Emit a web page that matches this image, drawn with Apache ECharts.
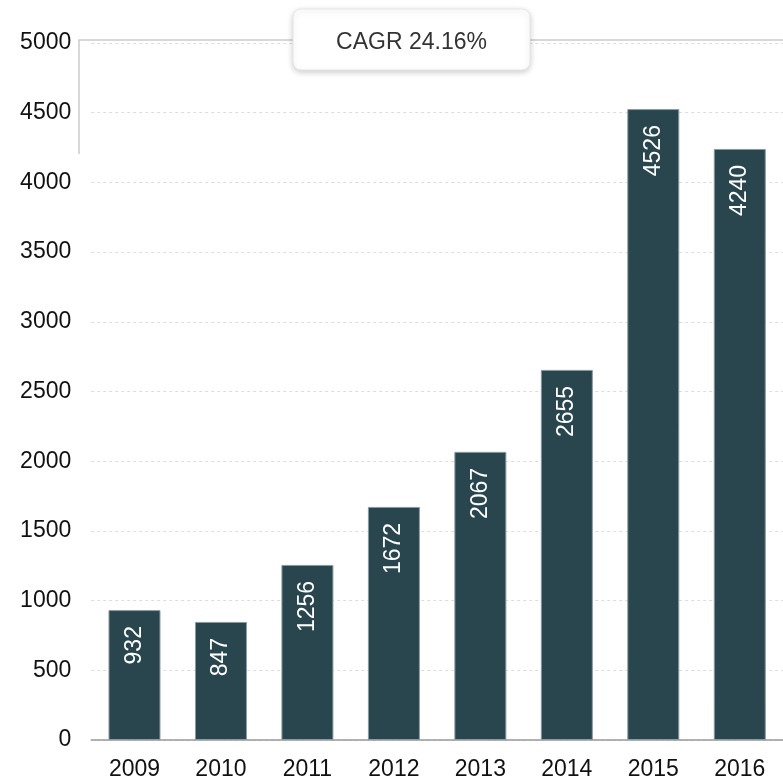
<!DOCTYPE html>
<html><head><meta charset="utf-8">
<script src="https://cdn.jsdelivr.net/npm/echarts@6/dist/echarts.min.js"></script>
<style>html,body{margin:0;padding:0;background:#fff}#c{width:783px;height:781px}</style>
</head><body><div id="c"></div>
<script>
var years = ['2009','2010','2011','2012','2013','2014','2015','2016'];
var values = [932, 847, 1256, 1672, 2067, 2655, 4526, 4240];
var yTicks = {min: 0, max: 5000, interval: 500};
var cagrText = 'CAGR 24.16%';

var chart = echarts.init(document.getElementById('c'));
var FONT = '"Liberation Sans", Arial, sans-serif';
chart.setOption({
  animation: false,
  grid: {left: 91.25, right: -8, top: 43, bottom: 39, containLabel: false},
  xAxis: {
    type: 'category', data: years,
    axisLine: {lineStyle: {color: '#999', width: 1.5}},
    axisTick: {length: 6, lineStyle: {color: '#999', width: 1.5}},
    axisLabel: {fontSize: 23, color: '#111', fontFamily: FONT, margin: 18}
  },
  yAxis: {
    type: 'value', min: yTicks.min, max: yTicks.max, interval: yTicks.interval,
    axisLine: {show: false}, axisTick: {show: false},
    axisLabel: {fontSize: 23, color: '#111', fontFamily: FONT, margin: 20, formatter: function (v) { return String(v); }},
    splitLine: {lineStyle: {color: '#ddd', type: [3, 3], width: 1}}
  },
  series: [{
    type: 'bar', data: values, barWidth: 52,
    itemStyle: {color: '#29464f', borderColor: '#8a9ba1', borderWidth: 1},
    label: {
      show: true, position: 'insideTop', rotate: 90, align: 'right', verticalAlign: 'middle',
      distance: 16, color: '#fff', fontSize: 23, fontFamily: FONT
    }
  }],
  graphic: [
    {type: 'polyline', shape: {points: [[79, 154], [79, 40], [783, 40]]},
     style: {stroke: '#ccc', lineWidth: 1.5, fill: null}, z: 5},
    {type: 'rect', shape: {x: 293, y: 9, width: 237, height: 61, r: 8},
     style: {fill: '#fff', stroke: '#e6e6e6', lineWidth: 1, shadowBlur: 6, shadowColor: 'rgba(0,0,0,0.2)', shadowOffsetY: 2}, z: 10},
    {type: 'text', x: 411.5, y: 43, z: 11,
     style: {text: cagrText, fontSize: 23, fontFamily: FONT, fill: '#333', align: 'center', verticalAlign: 'middle'}}
  ]
});
</script></body></html>
